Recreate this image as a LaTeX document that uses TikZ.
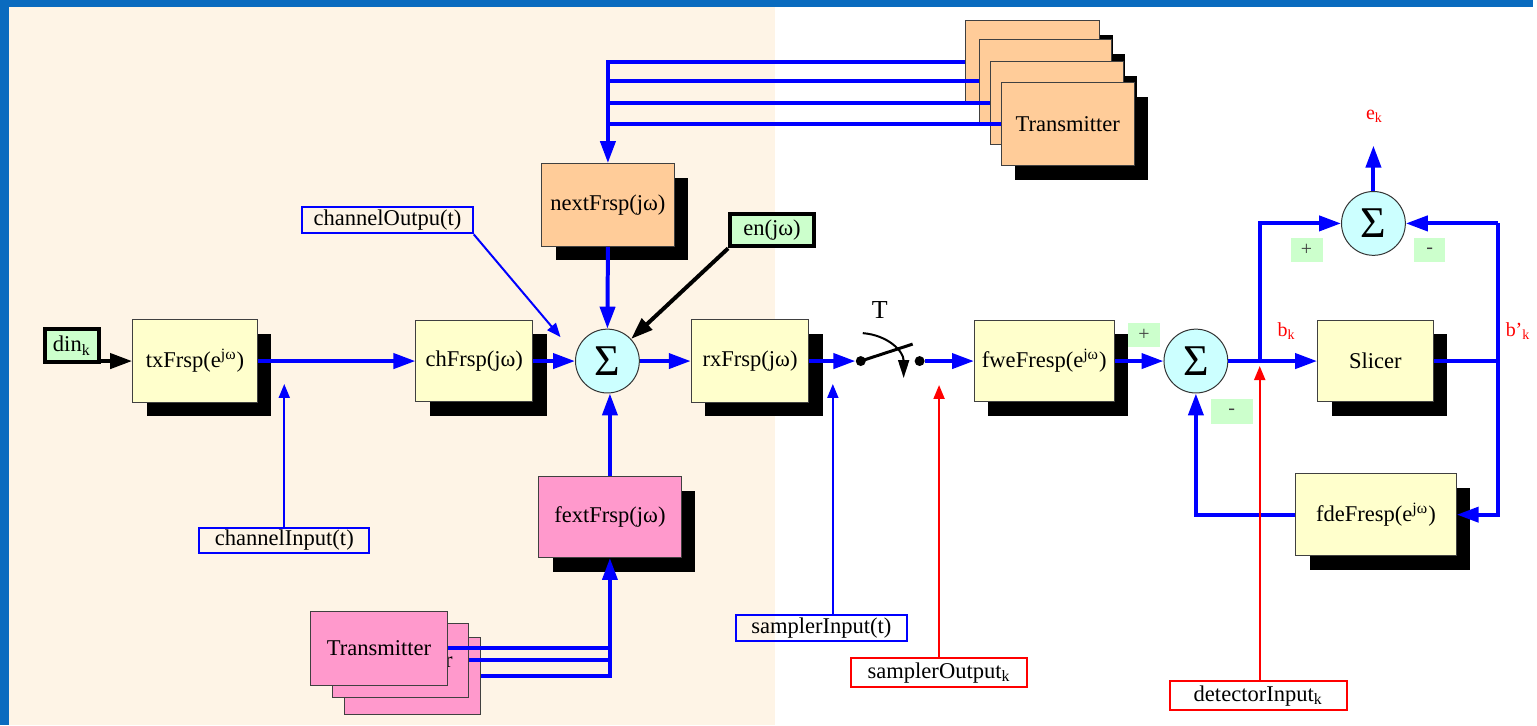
\documentclass[tikz,border=0pt]{standalone}
\usepackage{fontspec}
\setmainfont{Liberation Serif}
\usetikzlibrary{arrows.meta,shadows,calc}
\definecolor{frameblue}{HTML}{0A6BBF}
\definecolor{cream}{HTML}{FEF4E6}
\definecolor{byel}{HTML}{FFFFCC}
\definecolor{bpeach}{HTML}{FFCC99}
\definecolor{bpink}{HTML}{FF99CC}
\definecolor{bcyan}{HTML}{CCFFFF}
\definecolor{bgreen}{HTML}{CCFFCC}
\begin{document}
\begin{tikzpicture}[x=0.5pt,y=-0.5pt,
 txt/.style={font=\fontsize{11.3}{13}\selectfont},
 sz/.style 2 args={minimum width=#1*0.5pt, minimum height=#2*0.5pt, inner sep=0pt},
 fbox/.style={draw=black!75, line width=0.5pt, txt, drop shadow={shadow xshift=7pt,shadow yshift=-7pt,fill=black,opacity=1}},
 stackbox/.style={draw=black!75, line width=0.5pt, txt},
 sum/.style={circle, draw=black!80, line width=0.5pt, fill=bcyan, minimum size=32pt, inner sep=0pt, font=\fontsize{22}{24}\selectfont},
 inbox/.style={draw=black, line width=2pt, fill=bgreen, txt},
 lbl/.style={line width=1pt, txt},
 pm/.style={fill=bgreen, text=black!75, font=\fontsize{10}{12}\selectfont},
 redlbl/.style={text=red, font=\fontsize{10}{12}\selectfont},
 sigline/.style={draw=blue, line width=2pt},
 sigarr/.style={sigline, -{Triangle[length=11pt,width=7.5pt]}},
 blkarr/.style={draw=black, line width=2pt, -{Triangle[length=11pt,width=7.5pt]}},
 thinarr/.style={line width=1pt, -{Triangle[length=7pt,width=5.5pt]}}
]
% background
\fill[frameblue] (0,0) rectangle (1537,727);
\fill[cream] (9,7) rectangle (777,727);
\fill[white] (777,7) rectangle (1537,727);

% top-right transmitter stack
\node[fbox, fill=bpeach, sz={134}{83}] (tr1) at (1035,62.5) {};
\node[fbox, fill=bpeach, sz={132}{83}] (tr2) at (1048,81.5) {};
\node[fbox, fill=bpeach, sz={133}{83}] (tr3) at (1059.5,103.5) {};
\node[fbox, fill=bpeach, sz={133}{83}] (tr4) at (1070.5,124.5) {Transmitter};

% bottom-left transmitter stack
\node[stackbox, fill=bpink, sz={137}{77}] (bl3) at (413.5,677.5) {};
\node[stackbox, fill=bpink, sz={137}{74}] (bl2) at (401.5,662) {Transmitter};
\node[stackbox, fill=bpink, sz={138}{74}] (bl1) at (380,650) {Transmitter};

% function blocks
\node[fbox, fill=byel, sz={125}{83}] (tx) at (195.5,362) {txFrsp(e\textsuperscript{jω})};
\node[fbox, fill=byel, sz={117}{82}] (ch) at (475.5,362) {chFrsp(jω)};
\node[sum] (s1) at (609,362) {Σ};
\node[fbox, fill=bpeach, sz={133}{83}] (next) at (609.5,205.5) {nextFrsp(jω)};
\node[fbox, fill=bpink, sz={143}{81}] (fext) at (611.5,518.5) {fextFrsp(jω)};
\node[fbox, fill=byel, sz={118}{83}] (rx) at (752,362) {rxFrsp(jω)};
\node[fbox, fill=byel, sz={140}{82}] (fwe) at (1047,362) {fweFresp(e\textsuperscript{jω})};
\node[sum] (s2) at (1199,362) {Σ};
\node[fbox, fill=byel, sz={116}{82}] (slicer) at (1379,362) {Slicer};
\node[sum] (s3) at (1377,224) {Σ};
\node[fbox, fill=byel, sz={161}{82}] (fde) at (1379.5,516) {fdeFresp(e\textsuperscript{jω})};

% inputs
\node[inbox, sz={54}{33}] (din) at (72,346.5) {din\textsubscript{k}};
\node[inbox, sz={84}{32}] (en) at (774,231) {en(jω)};

% probe labels
\node[lbl, draw=blue, sz={171}{26}] (chout) at (388.5,221) {channelOutpu(t)};
\node[lbl, draw=blue, sz={170}{25}] (chin) at (285,541.5) {channelInput(t)};
\node[lbl, draw=blue, sz={171}{26}] (sin) at (823.5,630) {samplerInput(t)};
\node[lbl, draw=red, sz={177}{29}] (sout) at (941.5,674.5) {samplerOutput\textsubscript{k}};
\node[lbl, draw=red, sz={177}{29}] (det) at (1261.5,697.5) {detectorInput\textsubscript{k}};

% plus/minus tags
\node[pm, sz={32}{24}] (p1) at (1147,336) {+};
\node[pm, sz={42}{25}] (m1) at (1235,412.5) {-};
\node[pm, sz={32}{24}] (p2) at (1310,251) {+};
\node[pm, sz={31}{24}] (m2) at (1433.5,251) {-};

% red signal labels
\node[redlbl] (ekl) at (1378,117) {e\textsubscript{k}};
\node[redlbl] (bkl) at (1290,332) {b\textsubscript{k}};
\node[redlbl] (bpkl) at (1522,332) {b'\textsubscript{k}};

% switch
\node[circle, fill=black, inner sep=0pt, minimum size=5pt] (c1) at (863,362) {};
\node[circle, fill=black, inner sep=0pt, minimum size=5pt] (c2) at (922,362) {};
\coordinate (lever) at (915,345);
\coordinate (arcA) at (865,334);
\coordinate (arcB) at (906,379);
\node[font=\fontsize{13}{15}\selectfont] (T) at (882,311) {T};
\draw[line width=1.5pt] (c1.center) -- (lever);
\draw[line width=1pt, -{Triangle[length=9pt,width=5.5pt]}] (arcA) .. controls (890,336) and (906,352) .. (arcB);

% connectors: transmitters
\draw[sigarr, line join=miter] (tr1.west) -- (next.north |- tr1.west) -- (next.north);
\draw[sigline] (tr2.west) -- (next.north |- tr2.west);
\draw[sigline] (tr3.west) -- (next.north |- tr3.west);
\draw[sigline] (tr4.west) -- (next.north |- tr4.west);
\draw[sigarr, line join=miter] (bl3.east) -- (fext.south |- bl3.east) -- (fext.south);
\draw[sigline] (bl1.east) -- (fext.south |- bl1.east);
\draw[sigline] (bl2.east) -- (fext.south |- bl2.east);

% main chain
\draw[blkarr] (din.east |- tx.west) -- (tx.west);
\draw[sigarr] (tx.east) -- (ch.west);
\draw[sigarr] (ch.east) -- (s1.west);
\draw[sigarr] (next.south) -- (s1.north);
\draw[sigarr] (fext.north) -- (fext.north |- s1.south);
\draw[blkarr] (en.south west) -- (s1);
\draw[sigarr] (s1.east) -- (rx.west);
\draw[sigarr] (rx.east) -- (c1.west);
\draw[sigarr] (c2.east) -- (fwe.west);
\draw[sigarr] (fwe.east) -- (s2.west);
\coordinate (br) at (1263,362);
\coordinate (bp) at (1502,362);
\coordinate (ek) at (1377,146);
\draw[sigarr] (s2.east) -- (slicer.west);
\draw[sigarr, line join=miter] (br) -- (br |- s3.west) -- (s3.west);
\draw[sigline] (slicer.east) -- (bp);
\draw[sigarr] (bp |- s3.east) -- (s3.east);
\draw[sigarr, line join=miter] (bp |- s3.east) -- (bp |- fde.east) -- (fde.east);
\draw[sigarr, line join=miter] (fde.west) -- (fde.west -| s2.south) -- (s2.south);
\draw[sigarr] (s3.north) -- (ek);

% probe connectors
\coordinate (coT) at (562,338);
\coordinate (ciT) at (285,385);
\coordinate (siT) at (835,385);
\coordinate (soT) at (941.5,386);
\coordinate (dtT) at (1263,367);
\draw[blue, thinarr] (chout.south east) -- (coT);
\draw[blue, thinarr] (chin.north) -- (ciT);
\draw[blue, thinarr] (siT |- sin.north) -- (siT);
\draw[red, thinarr] (sout.north) -- (soT);
\draw[red, thinarr] (dtT |- det.north) -- (dtT);
\end{tikzpicture}
\end{document}
